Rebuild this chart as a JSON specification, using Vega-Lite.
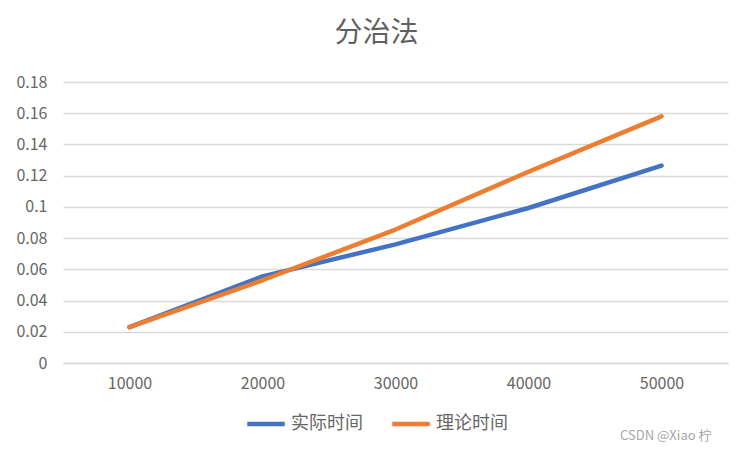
{
  "$schema": "https://vega.github.io/schema/vega-lite/v6.json",
  "width": 665,
  "height": 281,
  "autosize": {"type": "none"},
  "padding": {"left": 63, "top": 82, "right": 24, "bottom": 89},
  "background": "white",
  "title": {"text": "分治法", "fontSize": 28, "font": "Noto Sans CJK SC", "fontWeight": "normal", "color": "#5f5f5f", "anchor": "middle", "offset": 26, "dx": -19},
  "config": {
    "view": {"stroke": null},
    "font": "Noto Sans CJK SC",
    "axisY": {"values": [0, 0.02, 0.04, 0.06, 0.08, 0.1, 0.12, 0.14, 0.16, 0.18], "labelOverlap": false}
  },
  "data": {
    "values": [
      {"n": "10000", "series": "实际时间", "t": 0.023},
      {"n": "20000", "series": "实际时间", "t": 0.0555},
      {"n": "30000", "series": "实际时间", "t": 0.076},
      {"n": "40000", "series": "实际时间", "t": 0.0993},
      {"n": "50000", "series": "实际时间", "t": 0.1265},
      {"n": "10000", "series": "理论时间", "t": 0.023},
      {"n": "20000", "series": "理论时间", "t": 0.053},
      {"n": "30000", "series": "理论时间", "t": 0.0855},
      {"n": "40000", "series": "理论时间", "t": 0.1225},
      {"n": "50000", "series": "理论时间", "t": 0.158}
    ]
  },
  "layer": [
    {
      "mark": {"type": "line", "strokeWidth": 4.5, "strokeCap": "round", "strokeJoin": "round"},
      "encoding": {
        "x": {
          "field": "n", "type": "ordinal", "sort": null,
          "scale": {"type": "point", "padding": 0.5},
          "axis": {"title": null, "labelAngle": 0, "labelFontSize": 16, "labelColor": "#666666", "labelPadding": 12, "ticks": false, "domainColor": "#d9d9d9", "domainWidth": 1.5, "grid": false}
        },
        "y": {
          "field": "t", "type": "quantitative",
          "scale": {"domain": [0, 0.18], "nice": false, "zero": true},
          "axis": {"title": null, "values": [0, 0.02, 0.04, 0.06, 0.08, 0.1, 0.12, 0.14, 0.16, 0.18], "format": ".2~f", "labelOverlap": false, "labelBound": false, "grid": true, "labelFontSize": 16, "labelColor": "#666666", "labelPadding": 16, "ticks": false, "domain": false, "gridColor": "#d9d9d9", "gridWidth": 1.5}
        },
        "color": {
          "field": "series", "type": "nominal",
          "scale": {"domain": ["实际时间", "理论时间"], "range": ["#4472C4", "#ED7D31"]},
          "legend": {"title": null, "orient": "none", "legendX": 182, "legendY": 321, "direction": "horizontal", "symbolType": "stroke", "symbolSize": 1400, "symbolStrokeWidth": 4.5, "labelFontSize": 18, "labelColor": "#666666", "labelOffset": 4, "columnPadding": 20}
        }
      }
    },
    {
      "data": {"values": [{"label": "CSDN @Xiao 柠"}]},
      "mark": {"type": "text", "align": "right", "baseline": "middle", "fontSize": 13, "color": "#a6a6a6", "dx": 50},
      "encoding": {
        "x": {"datum": "50000", "type": "ordinal"},
        "y": {
          "datum": -0.047, "type": "quantitative",
          "axis": {"title": null, "values": [0, 0.02, 0.04, 0.06, 0.08, 0.1, 0.12, 0.14, 0.16, 0.18], "format": ".2~f", "labelOverlap": false, "labelBound": false, "grid": true, "labelFontSize": 16, "labelColor": "#666666", "labelPadding": 16, "ticks": false, "domain": false, "gridColor": "#d9d9d9", "gridWidth": 1.5}
        },
        "text": {"field": "label"}
      }
    }
  ]
}
